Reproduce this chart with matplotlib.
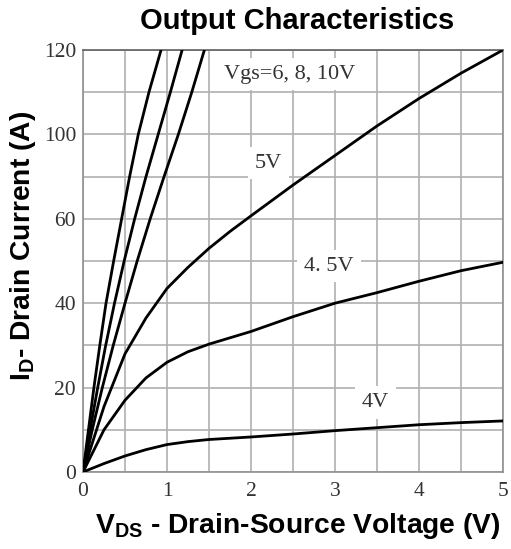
import matplotlib
matplotlib.use("Agg")
import matplotlib.pyplot as plt

plt.rcParams['mathtext.fontset'] = 'custom'
plt.rcParams['mathtext.bf'] = 'Liberation Sans:bold'
plt.rcParams['mathtext.rm'] = 'Liberation Sans'
plt.rcParams['mathtext.it'] = 'Liberation Sans:italic'

# ---- data (y in axis units; tick labels as printed on the chart) ----
v10_x = [0, 0.065, 0.13, 0.2, 0.274, 0.365, 0.46, 0.555, 0.658, 0.785, 0.929]
v10_y = [0, 10, 20, 30, 40, 50, 60, 70, 80, 90, 100]

v8_x = [0, 0.085, 0.175, 0.27, 0.375, 0.49, 0.615, 0.75, 0.895, 1.04, 1.18]
v8_y = [0, 10, 20, 30, 40, 50, 60, 70, 80, 90, 100]

v6_x = [0, 0.11, 0.23, 0.36, 0.5, 0.645, 0.8, 0.965, 1.135, 1.295, 1.445]
v6_y = [0, 10, 20, 30, 40, 50, 60, 70, 80, 90, 100]

v5_x = [0, 0.25, 0.5, 0.75, 1.0, 1.25, 1.5, 1.75, 2.0, 2.5, 3.0, 3.5, 4.0, 4.5, 5.0]
v5_y = [0, 15.5, 28, 36.5, 43.5, 48.5, 53, 57, 60.7, 68, 75, 82, 88.5, 94.5, 100]

v45_x = [0, 0.25, 0.5, 0.75, 1.0, 1.25, 1.5, 2.0, 2.5, 3.0, 3.5, 4.0, 4.5, 5.0]
v45_y = [0, 10, 17, 22.3, 26, 28.5, 30.3, 33.3, 36.8, 40, 42.5, 45.2, 47.7, 49.7]

v4_x = [0, 0.25, 0.5, 0.75, 1.0, 1.25, 1.5, 2.0, 2.5, 3.0, 3.5, 4.0, 4.5, 5.0]
v4_y = [0, 2.0, 3.8, 5.3, 6.5, 7.2, 7.7, 8.3, 9.0, 9.8, 10.5, 11.2, 11.7, 12.1]

x_ticks = [0, 1, 2, 3, 4, 5]
x_tick_labels = ['0', '1', '2', '3', '4', '5']
y_ticks = [0, 20, 40, 60, 80, 100]
y_tick_labels = ['0', '20', '40', '60', '100', '120']

curve_labels = ['Vgs=6, 8, 10V', '5V', '4. 5V', '4V']
label_pos = [(2.46, 94.3), (2.21, 73.2), (2.93, 48.8), (3.48, 16.4)]

W, H = 511, 549
fig = plt.figure(figsize=(W / 100, H / 100), dpi=100)
L, R, T, B = 83, 503, 50, 472
ax = fig.add_axes([L / W, 1 - B / H, (R - L) / W, (B - T) / H])

ax.set_xlim(0, 5)
ax.set_ylim(0, 100)
ax.set_xticks(x_ticks)
ax.set_xticklabels(x_tick_labels)
ax.set_xticks([0.5 + i for i in range(5)], minor=True)
ax.set_yticks(y_ticks)
ax.set_yticklabels(y_tick_labels)
ax.set_yticks([10, 30, 50, 70, 90], minor=True)
ax.grid(True, which='both', color='#b0b0b0', lw=1.2, zorder=0)
ax.set_axisbelow(True)
ax.tick_params(which='both', length=0)
ax.tick_params(axis='x', pad=7)
ax.tick_params(axis='y', pad=5)
for lab in ax.get_xticklabels() + ax.get_yticklabels():
    lab.set_fontfamily('Liberation Serif')
    lab.set_fontsize(15.5)
    lab.set_color('#333333')
for s in ax.spines.values():
    s.set_color('#909090')
    s.set_linewidth(1.2)
ax.spines['top'].set_color('#606060')

for xs, ys in [(v10_x, v10_y), (v8_x, v8_y), (v6_x, v6_y), (v5_x, v5_y), (v45_x, v45_y), (v4_x, v4_y)]:
    ax.plot(xs, ys, color='black', lw=2.0, zorder=4, solid_capstyle='round',
            solid_joinstyle='round')

for txt, (tx, ty) in zip(curve_labels, label_pos):
    ax.text(tx, ty, txt, ha='center', va='center', fontfamily='Liberation Serif',
            fontsize=16, color='#333333', zorder=5,
            bbox=dict(facecolor='white', edgecolor='none', pad=5))

fig.text(297 / W, 1 - 21 / H, 'Output Characteristics', ha='center', va='center',
         fontfamily='Liberation Sans', fontweight='bold', fontsize=21)
fig.text(298 / W, 1 - 526 / H, r'$\mathbf{V_{DS}}$ - Drain-Source Voltage (V)', ha='center',
         va='center', fontfamily='Liberation Sans', fontweight='bold', fontsize=20.3)
fig.text(23 / W, 1 - 246 / H, r'$\mathbf{I_{D}}$- Drain Current (A)', ha='center',
         va='center', rotation=90, fontfamily='Liberation Sans', fontweight='bold', fontsize=20.3)

fig.savefig('out.png', dpi=100)
